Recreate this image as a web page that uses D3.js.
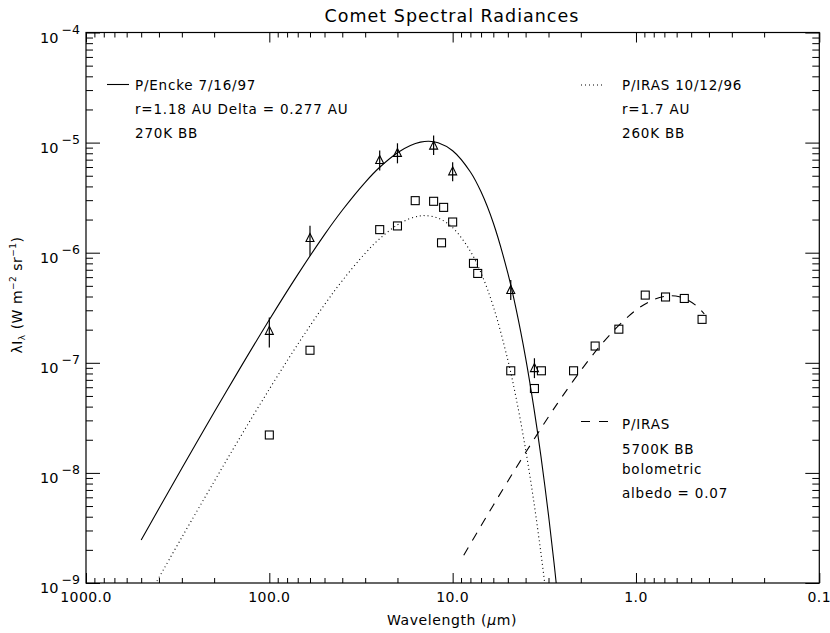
<!DOCTYPE html>
<html>
<head>
<meta charset="utf-8">
<script src="https://cdn.jsdelivr.net/npm/d3@7"></script>
<style>
body { margin: 0; background: #fff; }
text { font-family: "DejaVu Sans", sans-serif; fill: #000; }
</style>
</head>
<body>
<script>
// P/Encke photometry (triangles, with error bars)
const enckeWave = [100, 60, 25, 20, 12.7, 10, 4.82, 3.58];
const enckeFlux = [1.95e-7, 1.36e-6, 6.96e-6, 8.06e-6, 9.39e-6, 5.48e-6, 4.58e-7, 8.95e-8];
const enckeHi   = [2.58e-7, 1.76e-6, 8.46e-6, 9.86e-6, 1.16e-5, 6.62e-6, 5.65e-7, 1.10e-7];
const enckeLo   = [1.38e-7, 9.4e-7, 5.57e-6, 6.48e-6, 7.73e-6, 4.45e-6, 3.72e-7, 7.26e-8];

// P/IRAS photometry (squares)
const irasWave = [100, 60, 25, 20, 16, 12.7, 11.2, 11.5, 10, 7.7, 7.3, 4.82, 3.58, 3.28, 2.19,
                  1.67, 1.24, 0.89, 0.69, 0.545, 0.436];
const irasFlux = [2.21e-8, 1.30e-7, 1.62e-6, 1.75e-6, 2.97e-6, 2.93e-6, 2.58e-6, 1.23e-6, 1.90e-6,
                  8.0e-7, 6.48e-7, 8.46e-8, 5.84e-8, 8.46e-8, 8.46e-8, 1.42e-7, 2.02e-7, 4.12e-7,
                  3.96e-7, 3.84e-7, 2.48e-7];

// model curves
const bb270Wave = [500, 400, 300, 200, 150, 100, 70, 50, 40, 30, 25, 20, 17, 15, 13.5, 12, 10, 8, 7,
                   6, 5, 4.5, 4, 3.6, 3.3, 3.0, 2.8, 2.7];
const bb270Flux = [2.46e-9, 4.75e-9, 1.10e-8, 3.55e-8, 8.02e-8, 2.46e-7, 6.32e-7, 1.46e-6, 2.43e-6,
                   4.36e-6, 5.97e-6, 8.10e-6, 9.43e-6, 1.01e-5, 1.03e-5, 9.96e-6, 8.44e-6, 5.41e-6,
                   3.57e-6, 1.86e-6, 6.51e-7, 3.04e-7, 1.11e-7, 3.84e-8, 1.42e-8, 4.13e-9, 1.53e-9,
                   8.7e-10];

const bb260Wave = [500, 420, 400, 300, 200, 150, 100, 70, 50, 40, 30, 25, 20, 17, 15, 14, 12, 10, 8,
                   7, 6, 5, 4.5, 4, 3.6, 3.3, 3.1];
const bb260Flux = [5.83e-10, 9.7e-10, 1.12e-9, 2.60e-9, 8.35e-9, 1.89e-8, 5.76e-8, 1.47e-7, 3.37e-7,
                   5.57e-7, 9.88e-7, 1.34e-6, 1.79e-6, 2.05e-6, 2.16e-6, 2.17e-6, 2.06e-6, 1.69e-6,
                   1.03e-6, 6.54e-7, 3.25e-7, 1.06e-7, 4.74e-8, 1.63e-8, 5.35e-9, 1.87e-9, 8.15e-10];

const bb5700Wave = [8.7, 7, 6, 5, 4, 3, 2.5, 2, 1.6, 1.3, 1.1, 1.0, 0.9, 0.8, 0.7, 0.64, 0.58, 0.52,
                    0.47, 0.424];
const bb5700Flux = [1.79e-9, 3.31e-9, 5.09e-9, 8.41e-9, 1.53e-8, 3.23e-8, 5.06e-8, 8.51e-8, 1.37e-7,
                    2.02e-7, 2.64e-7, 3.01e-7, 3.39e-7, 3.75e-7, 4.01e-7, 4.06e-7, 3.98e-7, 3.71e-7,
                    3.31e-7, 2.78e-7];

// axis ticks
const xMajor = [1000, 100, 10, 1, 0.1];
const xLabels = ['1000.0', '100.0', '10.0', '1.0', '0.1'];
const yMajor = [1e-4, 1e-5, 1e-6, 1e-7, 1e-8, 1e-9];
const yExp = ['\u22124', '\u22125', '\u22126', '\u22127', '\u22128', '\u22129'];

window.onload = () => {
    const width = 830;
    const height = 633;
    const left = 86, right = 819.3, top = 32.5, bottom = 583;

    const svg = d3.select('body')
                  .append('svg')
                  .attr('width', width)
                  .attr('height', height);

    const x = d3.scaleLog().domain([1000, 0.1]).range([left, right]);
    const y = d3.scaleLog().domain([1e-9, 1e-4]).range([bottom, top]);

    const minors = (decades) => {
        const out = [];
        decades.forEach(d => { for (let k = 2; k <= 9; k++) out.push(k * d); });
        return out;
    };
    const xMinor = minors([100, 10, 1, 0.1]);
    const yMinor = minors([1e-9, 1e-8, 1e-7, 1e-6, 1e-5]);

    // ticks, pointing inward on all four sides
    const tickAxis = (axis, scale, vals, size, tx, ty) => {
        svg.append('g')
           .attr('transform', `translate(${tx},${ty})`)
           .call(axis(scale).tickValues(vals).tickSize(size).tickSizeOuter(0).tickFormat(''))
           .call(g => g.select('.domain').remove())
           .call(g => g.selectAll('line').attr('stroke', '#000').attr('stroke-width', 1));
    };
    tickAxis(d3.axisBottom, x, xMajor, -10, 0, bottom);
    tickAxis(d3.axisBottom, x, xMinor, -5, 0, bottom);
    tickAxis(d3.axisTop, x, xMajor, -10, 0, top);
    tickAxis(d3.axisTop, x, xMinor, -5, 0, top);
    tickAxis(d3.axisLeft, y, yMajor, -14, left, 0);
    tickAxis(d3.axisLeft, y, yMinor, -7, left, 0);
    tickAxis(d3.axisRight, y, yMajor, -14, right, 0);
    tickAxis(d3.axisRight, y, yMinor, -7, right, 0);

    svg.append('rect')
       .attr('x', left).attr('y', top)
       .attr('width', right - left).attr('height', bottom - top)
       .attr('fill', 'none').attr('stroke', '#000').attr('stroke-width', 1.2);

    // tick labels
    svg.selectAll('.xlab')
       .data(xMajor)
       .enter()
       .append('text')
       .attr('class', 'xlab')
       .attr('x', d => x(d))
       .attr('y', bottom + 19)
       .attr('text-anchor', 'middle')
       .style('font-size', '14px')
       .style('letter-spacing', '0.4px')
       .text((d, i) => xLabels[i]);

    const ylab = svg.selectAll('.ylab')
       .data(yMajor)
       .enter()
       .append('text')
       .attr('class', 'ylab')
       .attr('x', 80)
       .attr('y', d => y(d) + 10)
       .attr('text-anchor', 'end')
       .style('font-size', '14.5px');
    ylab.append('tspan').text('10');
    ylab.append('tspan')
        .attr('dx', 3)
        .attr('dy', -9)
        .style('font-size', '12.5px')
        .text((d, i) => yExp[i]);

    // titles
    svg.append('text')
       .attr('x', 452).attr('y', 22)
       .attr('text-anchor', 'middle')
       .style('font-size', '17.5px')
       .style('letter-spacing', '1px')
       .text('Comet Spectral Radiances');

    const xt = svg.append('text')
       .attr('x', 452).attr('y', 625)
       .attr('text-anchor', 'middle')
       .style('font-size', '14px')
       .style('letter-spacing', '0.6px');
    xt.append('tspan').text('Wavelength (');
    xt.append('tspan').style('font-style', 'italic').text('\u03bc');
    xt.append('tspan').text('m)');

    const yt = svg.append('text')
       .attr('transform', 'translate(22,295) rotate(-90)')
       .attr('text-anchor', 'middle')
       .style('font-size', '14px')
       .style('letter-spacing', '0.5px');
    yt.append('tspan').text('\u03bbI');
    yt.append('tspan').attr('dy', 3).style('font-size', '9px').text('\u03bb');
    yt.append('tspan').attr('dy', -3).text(' (W m');
    yt.append('tspan').attr('dy', -6).style('font-size', '9px').text('\u22122');
    yt.append('tspan').attr('dy', 6).text(' sr');
    yt.append('tspan').attr('dy', -6).style('font-size', '9px').text('\u22121');
    yt.append('tspan').attr('dy', 6).text(')');

    // model curves
    svg.append('clipPath').attr('id', 'plotclip')
       .append('rect')
       .attr('x', left).attr('y', top)
       .attr('width', right - left).attr('height', bottom - top);

    const line = d3.line()
                   .x(d => x(d[0]))
                   .y(d => y(d[1]))
                   .curve(d3.curveCatmullRom.alpha(0.5));

    const curves = [
        { wave: bb270Wave, flux: bb270Flux, dash: null },
        { wave: bb260Wave, flux: bb260Flux, dash: '1,3' },
        { wave: bb5700Wave, flux: bb5700Flux, dash: '9,8' }
    ];
    curves.forEach(c => {
        svg.append('path')
           .attr('clip-path', 'url(#plotclip)')
           .attr('d', line(c.wave.map((w, i) => [w, c.flux[i]])))
           .attr('fill', 'none')
           .attr('stroke', '#000')
           .attr('stroke-width', 1.1)
           .attr('stroke-dasharray', c.dash);
    });

    // Encke points: error bars and triangles
    const encke = enckeWave.map((w, i) => ({ w, f: enckeFlux[i], hi: enckeHi[i], lo: enckeLo[i] }));
    svg.selectAll('.ebar')
       .data(encke)
       .enter()
       .append('line')
       .attr('class', 'ebar')
       .attr('x1', d => x(d.w)).attr('x2', d => x(d.w))
       .attr('y1', d => y(d.hi)).attr('y2', d => y(d.lo))
       .attr('stroke', '#000').attr('stroke-width', 1.2);

    svg.selectAll('.tri')
       .data(encke)
       .enter()
       .append('path')
       .attr('class', 'tri')
       .attr('transform', d => `translate(${x(d.w)},${y(d.f)})`)
       .attr('d', 'M0,-4.5 L4,3.5 L-4,3.5 Z')
       .attr('fill', 'none').attr('stroke', '#000').attr('stroke-width', 1.1);

    // IRAS points: squares
    svg.selectAll('.sq')
       .data(irasWave.map((w, i) => ({ w, f: irasFlux[i] })))
       .enter()
       .append('rect')
       .attr('class', 'sq')
       .attr('x', d => x(d.w) - 4).attr('y', d => y(d.f) - 4)
       .attr('width', 8).attr('height', 8)
       .attr('fill', 'none').attr('stroke', '#000').attr('stroke-width', 1.1);

    // legends
    const legend = (x1, x2, ly, dash, tx, lines, baselines) => {
        svg.append('line')
           .attr('x1', x1).attr('x2', x2).attr('y1', ly).attr('y2', ly)
           .attr('stroke', '#000').attr('stroke-width', 1.1)
           .attr('stroke-dasharray', dash);
        lines.forEach((t, i) => {
            svg.append('text')
               .attr('x', tx).attr('y', baselines[i])
               .style('font-size', '13.5px')
               .style('letter-spacing', '0.8px')
               .text(t);
        });
    };
    legend(107, 129, 84.5, null, 135,
           ['P/Encke 7/16/97', 'r=1.18 AU Delta = 0.277 AU', '270K BB'], [90, 114, 138]);
    legend(581, 605, 85, '1,3', 622,
           ['P/IRAS 10/12/96', 'r=1.7 AU', '260K BB'], [90, 114, 138]);
    legend(581, 608, 421.5, '9,9', 622,
           ['P/IRAS', '5700K BB', 'bolometric', 'albedo = 0.07'], [429, 454, 474, 498]);
};
</script>
</body>
</html>
